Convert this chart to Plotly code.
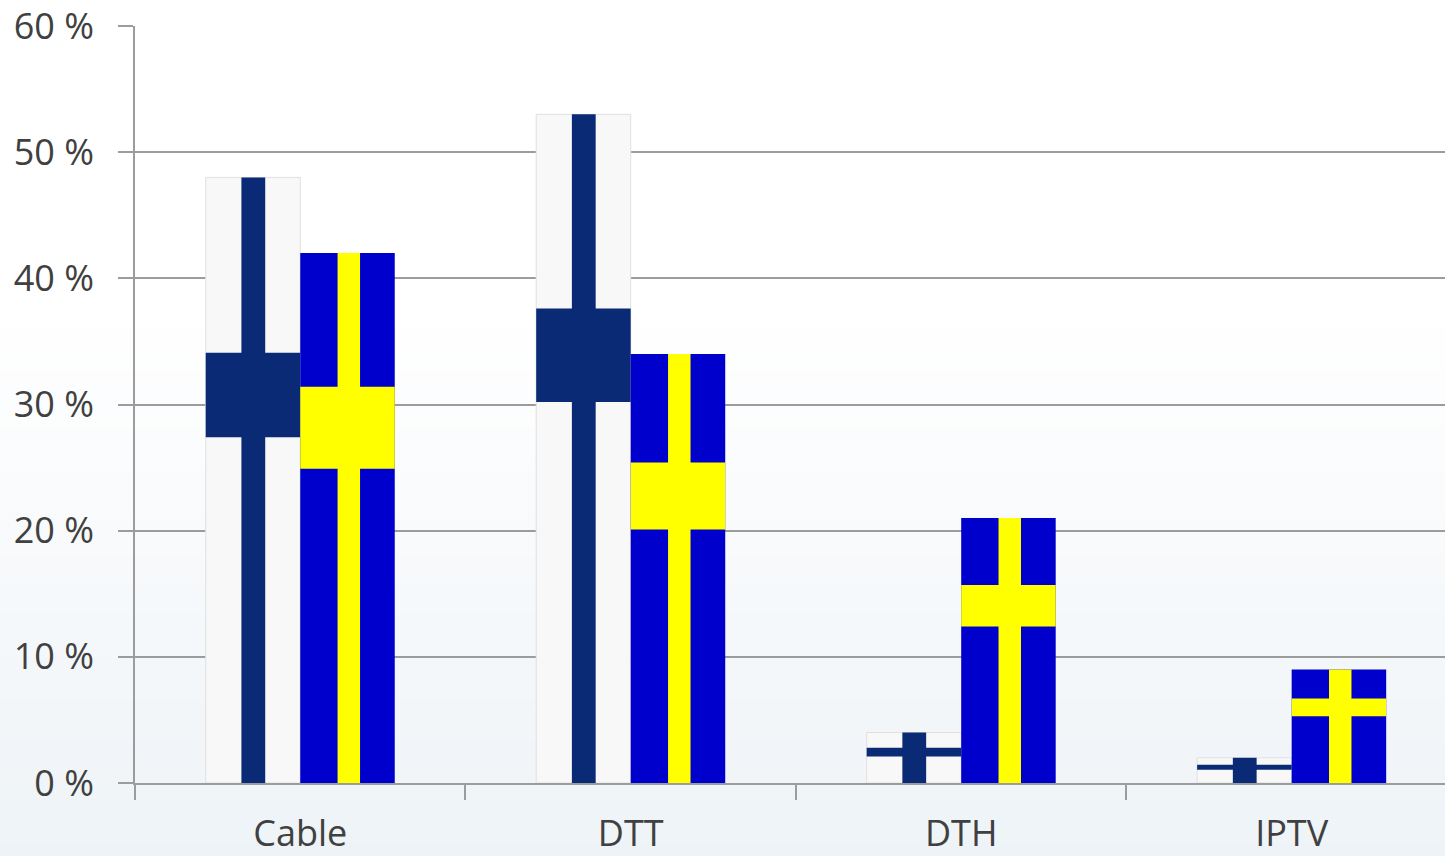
import plotly.graph_objects as go

categories = ["Cable", "DTT", "DTH", "IPTV"]
finland = [48, 53, 4, 2]
sweden = [42, 34, 21, 9]
finland_band_low = [27.4, 30.2, 2.1, 1.05]
finland_band_high = [34.1, 37.6, 2.8, 1.45]
sweden_band_low = [24.9, 20.1, 12.4, 5.3]
sweden_band_high = [31.4, 25.4, 15.7, 6.7]
y_ticks = [0, 10, 20, 30, 40, 50, 60]
y_tick_labels = ["0 %", "10 %", "20 %", "30 %", "40 %", "50 %", "60 %"]

BAR_W = 0.286
WHITE = "#F8F8F8"
NAVY = "#0A2A75"
BLUE = "#0000CC"
YELLOW = "#FFFF00"
GREY = "#9C9C9C"
TEXT = "#404040"
FONT = "Open Sans"
FONT_SIZE = 36


def layer(base, top, offset, width, color, line=None):
    return go.Bar(
        x=categories,
        y=[t - b for t, b in zip(top, base)],
        base=base,
        offset=offset,
        width=width,
        marker=dict(color=color, line=dict(color=line or color, width=1 if line else 0)),
        showlegend=False,
        hoverinfo="skip",
    )


zeros = [0, 0, 0, 0]
fig = go.Figure()
# Finnish flag bars
fig.add_trace(layer(zeros, finland, -BAR_W, BAR_W, WHITE, "#E0E0E0"))
fig.add_trace(layer(zeros, finland, -0.178, 0.072, NAVY))
fig.add_trace(layer(finland_band_low, finland_band_high, -BAR_W, BAR_W, NAVY))
# Swedish flag bars
fig.add_trace(layer(zeros, sweden, 0, BAR_W, BLUE))
fig.add_trace(layer(zeros, sweden, 0.113, 0.068, YELLOW))
fig.add_trace(layer(sweden_band_low, sweden_band_high, 0, BAR_W, YELLOW))

# page background gradient: white at top to pale blue-grey at the bottom
shapes = []
STEPS = 60
for i in range(STEPS):
    t0 = i / STEPS
    t1 = (i + 1) / STEPS
    k = max(0.0, (t0 - 0.35) / 0.65)
    r = round(255 + (238 - 255) * k)
    g = round(255 + (243 - 255) * k)
    b = round(255 + (247 - 255) * k)
    shapes.append(dict(
        type="rect", xref="paper", yref="paper", layer="below",
        x0=-0.2, x1=1.0,
        y0=(783 - 856 * t0) / 757,
        y1=(783 - 856 * t1 - 1) / 757,
        fillcolor=f"rgb({r},{g},{b})", line=dict(width=0),
    ))

fig.update_layout(
    width=1445,
    height=856,
    margin=dict(l=135, r=0, t=26, b=73, pad=0, autoexpand=False),
    barmode="overlay",
    paper_bgcolor="white",
    plot_bgcolor="rgba(0,0,0,0)",
    shapes=shapes,
    showlegend=False,
    font=dict(family=FONT, color=TEXT, size=FONT_SIZE),
    xaxis=dict(
        type="category",
        range=[-0.5, 3.464],
        automargin=False,
        tickson="boundaries",
        ticks="outside",
        ticklen=15,
        tickwidth=1.5,
        tickcolor=GREY,
        ticklabelstandoff=18,
        showgrid=False,
        showline=True,
        linecolor=GREY,
        linewidth=2,
        tickfont=dict(family=FONT, size=FONT_SIZE, color=TEXT),
    ),
    yaxis=dict(
        range=[0, 60],
        automargin=False,
        tickvals=y_ticks,
        ticktext=y_tick_labels,
        ticks="outside",
        ticklen=15,
        tickwidth=1.5,
        tickcolor=GREY,
        ticklabelstandoff=17,
        showgrid=True,
        gridcolor=GREY,
        gridwidth=1.5,
        zeroline=False,
        showline=True,
        linecolor=GREY,
        linewidth=1.5,
        tickfont=dict(family=FONT, size=FONT_SIZE, color=TEXT),
    ),
)

fig.write_html(
    "out.html",
    config={"displayModeBar": False},
    post_script="document.body.style.margin='0';document.body.style.overflow='hidden';",
)
